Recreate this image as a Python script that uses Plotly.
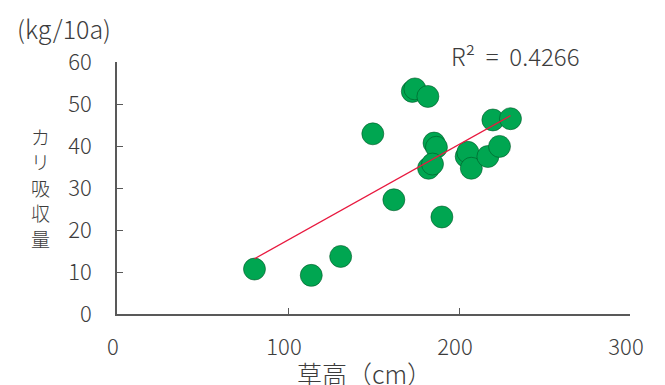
import numpy as np
import plotly.graph_objects as go

# Data (草高 cm vs カリ吸収量 kg/10a)
plant_height = [80.4, 113.6, 130.8, 149.6, 161.9, 190.0, 172.7, 174.2, 181.8,
                185.4, 186.8, 182.2, 184.5, 204.2, 205.2, 207.2, 216.9, 223.7,
                219.8, 230.1]
potash_uptake = [10.7, 9.2, 13.7, 42.9, 27.2, 23.1, 53.0, 53.6, 51.8,
                 40.7, 39.7, 34.7, 35.7, 37.5, 38.5, 34.7, 37.5, 39.9,
                 46.2, 46.5]
x_ticks = [0, 100, 200, 300]
y_ticks = [0, 10, 20, 30, 40, 50, 60]
r2_label = "R²\u00a0\u00a0=\u00a0\u00a00.4266"
y_title_chars = ["カ", "リ", "吸", "収", "量"]

FONT = "Noto Sans CJK JP, Noto Sans, sans-serif"
TXT = "#3c3c3c"
AX = "#595959"

xa = np.array(plant_height)
ya = np.array(potash_uptake)
slope, intercept = np.polyfit(xa, ya, 1)
fit_x = np.array([xa.min(), xa.max()])
fit_y = slope * fit_x + intercept

fig = go.Figure()
fig.add_trace(go.Scatter(
    x=plant_height, y=potash_uptake, mode="markers",
    marker=dict(size=22, color="#00a651",
                line=dict(color="rgba(0,80,35,0.55)", width=1)),
    showlegend=False, hoverinfo="skip"))
fig.add_trace(go.Scatter(
    x=fit_x, y=fit_y, mode="lines",
    line=dict(color="#e8193f", width=1.3),
    showlegend=False, hoverinfo="skip"))

L, R, T, B = 117, 34.5, 62, 71
W, H = 665, 385
pw, ph = W - L - R, H - T - B

def px(xp):
    return (xp - L) / pw

def py(yp):
    return (H - B - yp) / ph

fig.update_layout(
    width=W, height=H,
    margin=dict(l=L, r=R, t=T, b=B),
    paper_bgcolor="white", plot_bgcolor="white",
    font=dict(family=FONT, size=22, color=TXT, weight=300),
    xaxis=dict(range=[0, 300], tickvals=x_ticks, showgrid=False, zeroline=False,
               showline=True, linecolor=AX, linewidth=1.5,
               ticks="inside", ticklen=6, tickcolor=AX, tickwidth=1.2,
               ticklabelstandoff=13, ticklabelshift=-4,
               tickfont=dict(size=22, color=TXT, weight=300)),
    yaxis=dict(range=[0, 60], tickvals=y_ticks, showgrid=False, zeroline=False,
               showline=True, linecolor=AX, linewidth=1.5,
               ticks="inside", ticklen=6, tickcolor=AX, tickwidth=1.2,
               ticklabelstandoff=19,
               tickfont=dict(size=22, color=TXT, weight=300)),
)

fig.add_annotation(text="(kg/10a)", xref="paper", yref="paper",
                   x=px(64), y=py(28), xanchor="center", yanchor="middle",
                   showarrow=False, font=dict(size=25, color=TXT, weight=300))
for i, ch in enumerate(y_title_chars):
    fig.add_annotation(text=ch, xref="paper", yref="paper",
                       x=px(40), y=py(136 + 25.5 * i), xanchor="center",
                       yanchor="middle", showarrow=False,
                       font=dict(size=19, color=TXT, weight=300))
fig.add_annotation(text="草高（cm）", xref="paper", yref="paper",
                   x=px(365), y=py(373), xanchor="center", yanchor="middle",
                   showarrow=False, font=dict(size=25, color=TXT, weight=300))
fig.add_annotation(text=r2_label, xref="paper", yref="paper",
                   x=px(516), y=py(55), xanchor="center", yanchor="middle",
                   showarrow=False, font=dict(size=24, color=TXT, weight=300))

fig.write_html("out.html")
